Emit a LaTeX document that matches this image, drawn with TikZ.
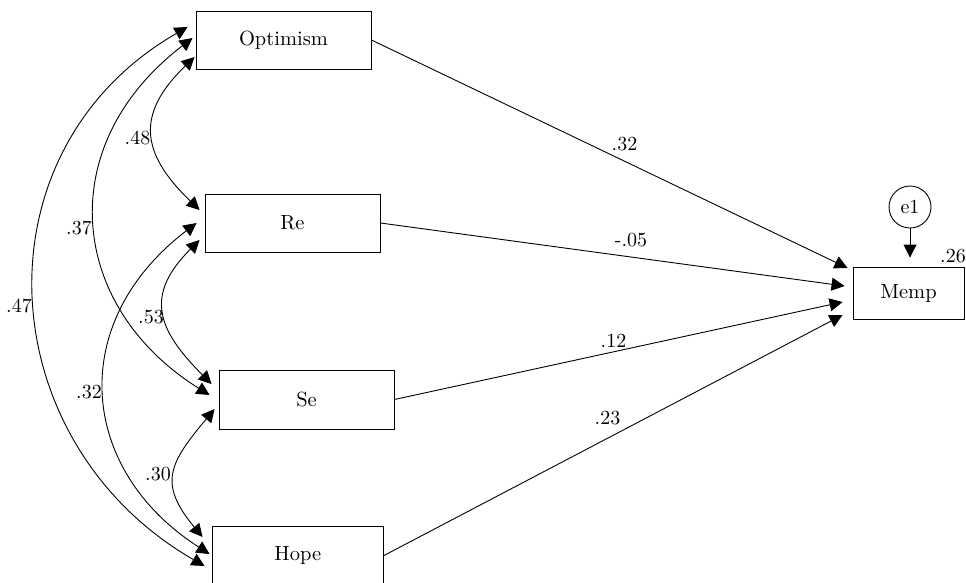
\documentclass[tikz,border=0pt]{standalone}
\usepackage{fontspec}
\setmainfont{lmroman10-regular.otf}
\usetikzlibrary{arrows.meta,calc,shapes.geometric}
\begin{document}
\begin{tikzpicture}[x=1pt,y=-1pt, font=\fontsize{20}{24}\selectfont,
  box/.style={draw, line width=0.9pt, inner sep=0pt, rectangle, font=\fontsize{20.5}{24}\selectfont},
  lab/.style={inner sep=0pt},
  path/.style={line width=0.9pt, -{Triangle[length=13pt,width=13pt]}},
  cov/.style={line width=0.9pt, {Triangle[length=13pt,width=13pt]}-{Triangle[length=13pt,width=13pt]}}]
\useasboundingbox (0,0) rectangle (966,582);
% boxes
\node[box, minimum width=175pt, minimum height=58pt] (opt) at (283.5,40) {Optimism};
\node[box, minimum width=175pt, minimum height=58pt] (re) at (292.5,223) {Re};
\node[box, minimum width=175pt, minimum height=59pt] (se) at (306.5,399.5) {Se};
\node[box, minimum width=171.5pt, minimum height=58pt] (hope) at (297.75,555.5) {Hope};
\node[box, minimum width=111pt, minimum height=52pt] (memp) at (908.5,293) {Memp};
\node[draw, circle, line width=0.9pt, inner sep=0pt, minimum size=42pt] (e1) at (910,207) {e1};
% paths to Memp
\draw[path] (opt.east) -- ($(memp.west)+(-5,-25)$);
\draw[path] (re.east) -- ($(memp.west)+(-8,-7)$);
\draw[path] (se.east) -- ($(memp.west)+(-10,9)$);
\draw[path] (hope.east) -- ($(memp.west)+(-10,22)$);
\draw[path] (e1.south) -- ($(memp.north)+(1.5,-9)$);
% covariances
\draw[cov] ($(opt.west)+(-1,17)$) .. controls +(-59,57) and +(-59,-57) .. ($(re.west)+(-5,-13)$);
\draw[cov] ($(opt.west)+(-3,-2)$) .. controls +(-141,108) and +(-141,-88) .. ($(se.west)+(-9,-4.5)$);
\draw[cov] ($(opt.west)+(-8,-13)$) .. controls +(-215,124) and +(-215,-124) .. ($(hope.west)+(-7,10.5)$);
\draw[cov] ($(re.west)+(-5,17)$) .. controls +(-55,55) and +(-55,-55) .. ($(se.west)+(-7,-15.5)$);
\draw[cov] ($(re.west)+(-8,0)$) .. controls +(-131,100) and +(-131,-84) .. ($(hope.west)+(-2,-1.5)$);
\draw[cov] ($(se.west)+(-4,9.5)$) .. controls +(-45,54) and +(-45,-54) .. ($(hope.west)+(-9,-18.5)$);
% labels
\node[lab] (lopt) at (624.5,144) {.32};
\node[lab] (lre) at (631,240) {-.05};
\node[lab] (lse) at (613.5,341) {.12};
\node[lab] (lhope) at (607.5,418) {.23};
\node[lab] (lr2) at (953,256.5) {.26};
\node[lab] (c48) at (137.5,137.5) {.48};
\node[lab] (c37) at (79,227.5) {.37};
\node[lab] (c47) at (19,305.5) {.47};
\node[lab] (c53) at (151,317.5) {.53};
\node[lab] (c32) at (89,392) {.32};
\node[lab] (c30) at (158,474.5) {.30};
\end{tikzpicture}
\end{document}
